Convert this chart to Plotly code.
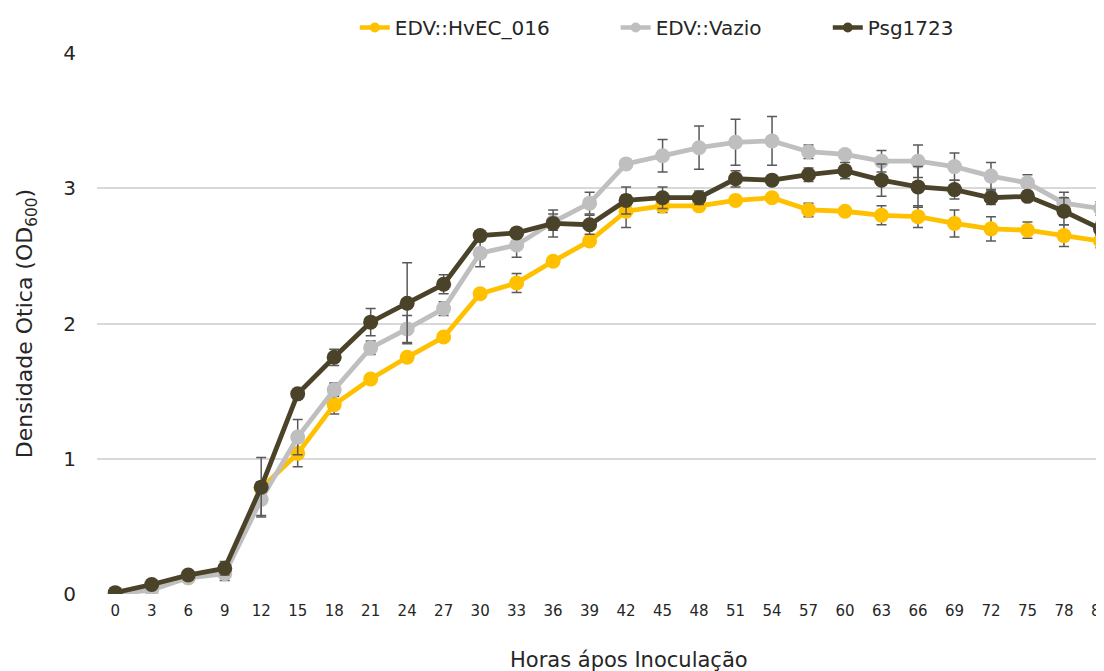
import plotly.graph_objects as go

hours = [0, 3, 6, 9, 12, 15, 18, 21, 24, 27, 30, 33, 36, 39, 42, 45, 48, 51, 54, 57, 60, 63, 66, 69, 72, 75, 78, 81]
tick_labels = [str(h) for h in hours]

hvec = [0.00, 0.05, 0.12, 0.17, 0.78, 1.04, 1.40, 1.59, 1.75, 1.90, 2.22, 2.30, 2.46, 2.61, 2.83, 2.87, 2.87, 2.91, 2.93, 2.84, 2.83, 2.80, 2.79, 2.74, 2.70, 2.69, 2.65, 2.61]
hvec_err = [0.00, 0.01, 0.03, 0.03, 0.05, 0.10, 0.07, 0.03, 0.03, 0.03, 0.03, 0.07, 0.03, 0.03, 0.12, 0.05, 0.03, 0.03, 0.03, 0.05, 0.03, 0.07, 0.08, 0.10, 0.09, 0.06, 0.08, 0.05]

vazio = [0.00, 0.03, 0.12, 0.15, 0.70, 1.16, 1.51, 1.82, 1.96, 2.11, 2.52, 2.58, 2.75, 2.89, 3.18, 3.24, 3.30, 3.34, 3.35, 3.27, 3.25, 3.20, 3.20, 3.16, 3.09, 3.04, 2.89, 2.85]
vazio_err = [0.00, 0.01, 0.02, 0.05, 0.12, 0.13, 0.05, 0.05, 0.10, 0.05, 0.10, 0.09, 0.06, 0.08, 0.03, 0.12, 0.16, 0.17, 0.18, 0.05, 0.03, 0.08, 0.12, 0.10, 0.10, 0.06, 0.08, 0.05]

psg = [0.01, 0.07, 0.14, 0.19, 0.79, 1.48, 1.75, 2.01, 2.15, 2.29, 2.65, 2.67, 2.74, 2.73, 2.91, 2.93, 2.93, 3.07, 3.06, 3.10, 3.13, 3.06, 3.01, 2.99, 2.93, 2.94, 2.83, 2.70]
psg_err = [0.00, 0.01, 0.02, 0.05, 0.22, 0.03, 0.06, 0.10, 0.30, 0.07, 0.02, 0.03, 0.10, 0.07, 0.10, 0.08, 0.05, 0.06, 0.03, 0.05, 0.06, 0.12, 0.15, 0.07, 0.05, 0.03, 0.10, 0.05]

series = [
    ("EDV::HvEC_016", hvec, hvec_err, "#FFC000", "legend", 0.254),
    ("EDV::Vazio", vazio, vazio_err, "#BFBFBF", "legend2", 0.511),
    ("Psg1723", psg, psg_err, "#4A432A", "legend3", 0.720),
]

FONT = "DejaVu Sans"
TXT = "#262626"
fig = go.Figure()
for name, vals, errs, color, lg, lx in series:
    fig.add_trace(go.Scatter(
        x=hours, y=vals, name=name, mode="lines+markers", showlegend=False,
        line=dict(color=color, width=4.8),
        marker=dict(color=color, size=15),
        error_y=dict(type="data", array=errs, visible=True, color="#595959", thickness=1.5, width=5),
    ))
# legend entries with smaller markers, as in the reference
legends = {}
for name, vals, errs, color, lg, lx in series:
    fig.add_trace(go.Scatter(
        x=[None], y=[None], name=name, mode="lines+markers", showlegend=True, legend=lg,
        line=dict(color=color, width=4.5),
        marker=dict(color=color, size=10),
    ))
    legends[lg] = dict(orientation="h", x=lx, xanchor="left", y=1.048, yanchor="middle",
                       font=dict(size=20, color=TXT), bgcolor="rgba(0,0,0,0)")

fig.update_layout(
    width=1104, height=671,
    margin=dict(l=89, r=0, t=45, b=85),
    paper_bgcolor="white", plot_bgcolor="white",
    font=dict(family=FONT, color=TXT),
    showlegend=True,
    xaxis=dict(range=[-1.5, 81.95], tickmode="array", tickvals=hours, ticktext=tick_labels,
               showgrid=False, zeroline=False, showline=False, ticks="",
               ticklabelstandoff=6,
               tickfont=dict(size=15, color=TXT)),
    yaxis=dict(range=[0, 4], tickvals=[0, 1, 2, 3, 4], showgrid=True, gridcolor="#D9D9D9", gridwidth=1.5,
               zeroline=False, showline=False, ticks="",
               ticklabelstandoff=20,
               tickfont=dict(size=20, color=TXT),
               title=dict(text="Densidade Otica (OD<sub>600</sub>)", font=dict(size=22, color=TXT), standoff=24)),
    annotations=[dict(text="Horas ápos Inoculação", xref="paper", yref="paper", x=0.524, y=-0.122,
                      xanchor="center", yanchor="middle", showarrow=False,
                      font=dict(size=21, color=TXT))],
    **legends,
)

fig.write_html("out.html")
